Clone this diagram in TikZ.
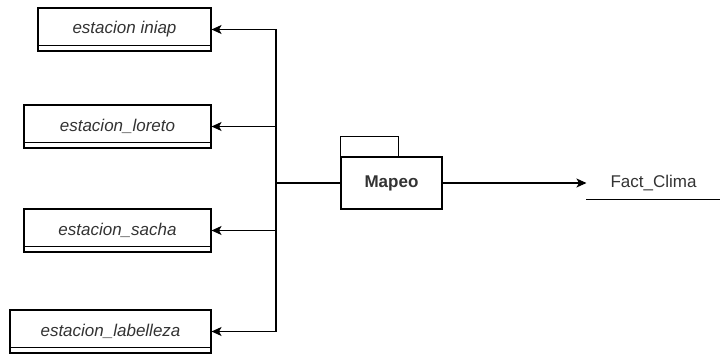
\documentclass[tikz,border=0pt]{standalone}
\usepackage{fontspec}
\setmainfont{Liberation Sans}
\usetikzlibrary{arrows.meta}
\definecolor{txtgray}{HTML}{333333}

\begin{document}
\begin{tikzpicture}[x=1pt,y=-1pt,line width=1.1pt,
  >={Stealth[length=10pt,width=9pt,inset=2.5pt]},
  stationbox/.style={draw,rectangle,minimum height=43pt,inner sep=0pt,
    font=\fontsize{17}{20}\selectfont\itshape,text=txtgray}]
  \useasboundingbox (0,0) rectangle (720,356);
  % Station tables, right edges lined up
  \foreach \nm/\lbl/\xl/\yc in {iniap/estacion iniap/38/29.5,
      loreto/estacion\_loreto/24/126.5, sacha/estacion\_sacha/24/230.5,
      labelleza/estacion\_labelleza/10/331.5}{
    \node[stationbox,minimum width={(211-\xl)*1pt}] (\nm) at ({(211+\xl)/2},\yc) {\lbl};
    \draw ([yshift=6pt]\nm.south west) -- ([yshift=6pt]\nm.south east);
  }
  % Mapeo package with its tab
  \node[draw,minimum width=101pt,minimum height=52pt,inner sep=0pt,
    font=\fontsize{17}{20}\selectfont\bfseries,text=txtgray] (mapeo) at (391.5,183) {Mapeo};
  \draw (mapeo.north west) rectangle ++(58,-20);
  % Target fact table, underlined only
  \node[minimum width=133pt,minimum height=32pt,inner sep=0pt,
    font=\fontsize{17}{20}\selectfont,text=txtgray] (fact) at (653.5,183) {Fact\_Clima};
  \draw (fact.south west) -- (fact.south east);
  % Fan-out from Mapeo to the stations
  \coordinate (hub) at (276,183);
  \draw (mapeo.west) -- (hub);
  \foreach \nm in {iniap,loreto,sacha,labelleza}{
    \draw[->] (hub) |- (\nm.east);
  }
  \draw[->] (mapeo.east) -- (fact.west);
\end{tikzpicture}
\end{document}
